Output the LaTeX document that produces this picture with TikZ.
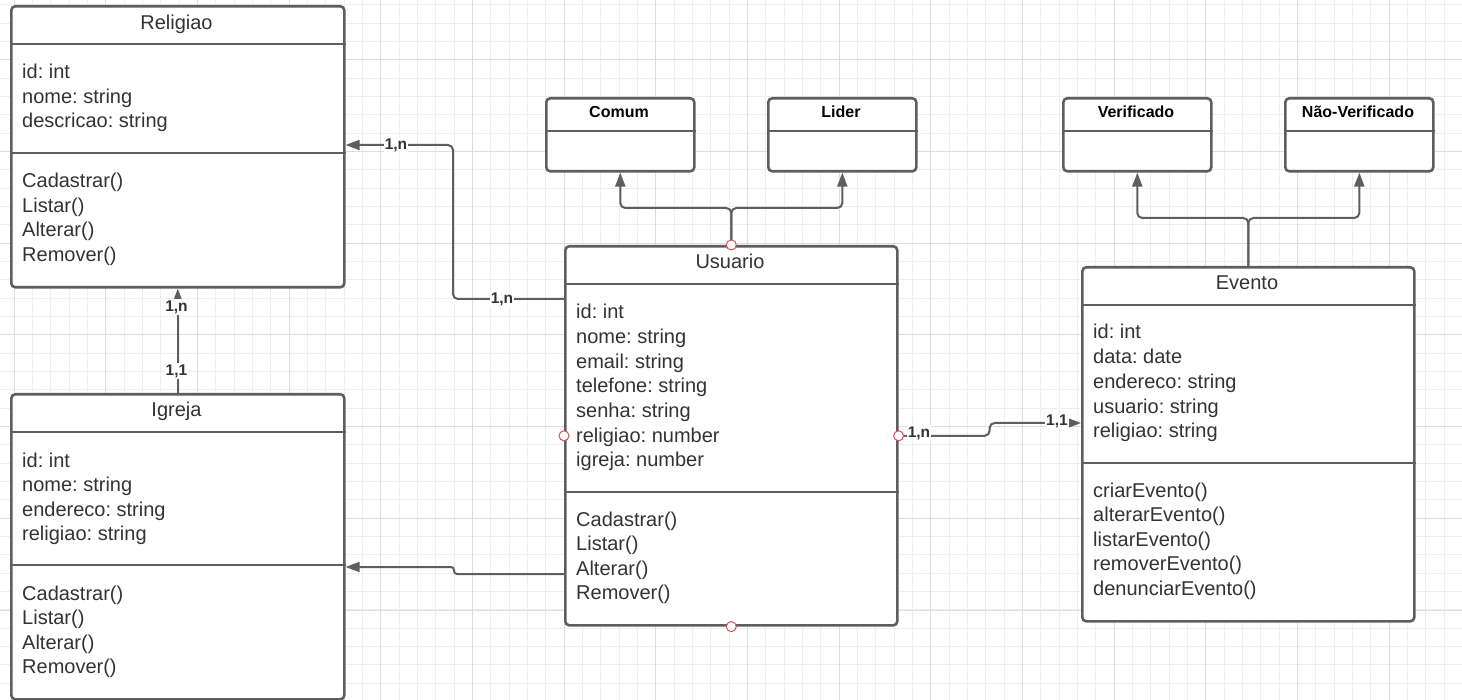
\documentclass[tikz,border=0pt]{standalone}
\usepackage{fontspec}
\setmainfont{Liberation Sans}
\usetikzlibrary{arrows.meta}
\definecolor{edge}{HTML}{5E5E5E}
\definecolor{ink}{HTML}{333333}
\definecolor{gmin}{HTML}{EEEEEE}
\definecolor{gmaj}{HTML}{DDDDDD}
\definecolor{ptred}{HTML}{E0505C}
\frenchspacing
\begin{document}
\begin{tikzpicture}[x=1pt,y=-1pt,
  umlbox/.style={draw=edge,line width=2.6pt,fill=white,rounded corners=4pt,inner sep=0pt,anchor=north west},
  divider/.style={draw=edge,line width=2.6pt},
  txt/.style={font=\fontsize{20}{24}\selectfont,text=ink,inner sep=0pt,anchor=base west},
  ttl/.style={font=\fontsize{20}{24}\selectfont,text=ink,inner sep=0pt,anchor=base},
  sttl/.style={font=\bfseries\fontsize{16}{19}\selectfont,text=black,inner sep=0pt,anchor=base},
  conn/.style={draw=edge,line width=2pt,rounded corners=5pt},
  tip/.style={-{Triangle[length=14pt,width=10pt]}},
  lbl/.style={font=\bfseries\fontsize{15.5}{18}\selectfont,text=ink,fill=white,inner sep=1pt},
  cpt/.style={circle,draw=ptred,fill=white,line width=1pt,minimum size=10pt,inner sep=0pt}]
\useasboundingbox (0,0) rectangle (1462,700);
\fill[white] (0,0) rectangle (1462,700);
% grid
\foreach \i in {0,...,79}{\draw[gmin,line width=1pt] (14.1+\i*18.333,0) -- (14.1+\i*18.333,700);}
\foreach \j in {0,...,37}{\draw[gmin,line width=1pt] (0,5+\j*18.333) -- (1462,5+\j*18.333);}
\foreach \i in {0,...,15}{\draw[gmaj,line width=1pt] (14.1+\i*91.667,0) -- (14.1+\i*91.667,700);}
\foreach \j in {0,...,7}{\draw[gmaj,line width=1pt] (0,60+\j*91.667) -- (1462,60+\j*91.667);}

% boxes
\node[umlbox,minimum width=333pt,minimum height=281pt] (rel) at (10,5) {};
\node[umlbox,minimum width=333pt,minimum height=305pt] (igr) at (10,393) {};
\node[umlbox,minimum width=332pt,minimum height=379pt] (usu) at (564,245) {};
\node[umlbox,minimum width=332pt,minimum height=354pt] (eve) at (1081,266) {};
\node[umlbox,minimum width=148pt,minimum height=73pt] (com) at (545,97) {};
\node[umlbox,minimum width=148pt,minimum height=73pt] (lid) at (767,97) {};
\node[umlbox,minimum width=148pt,minimum height=73pt] (ver) at (1062,97) {};
\node[umlbox,minimum width=148pt,minimum height=73pt] (nver) at (1284,97) {};

% dividers
\draw[divider] ([yshift=-39pt]rel.north west) -- ([yshift=-39pt]rel.north east);
\draw[divider] ([yshift=-148pt]rel.north west) -- ([yshift=-148pt]rel.north east);
\draw[divider] ([yshift=-39pt]igr.north west) -- ([yshift=-39pt]igr.north east);
\draw[divider] ([yshift=-172pt]igr.north west) -- ([yshift=-172pt]igr.north east);
\draw[divider] ([yshift=-39pt]usu.north west) -- ([yshift=-39pt]usu.north east);
\draw[divider] ([yshift=-247pt]usu.north west) -- ([yshift=-247pt]usu.north east);
\draw[divider] ([yshift=-39pt]eve.north west) -- ([yshift=-39pt]eve.north east);
\draw[divider] ([yshift=-197pt]eve.north west) -- ([yshift=-197pt]eve.north east);
\foreach \b in {com,lid,ver,nver}{\draw[divider] ([yshift=-34pt]\b.north west) -- ([yshift=-34pt]\b.north east);}

% titles
\node[ttl] (relt) at (176.5,30) {Religiao};
\node[ttl] (igrt) at (176.5,417) {Igreja};
\node[ttl] (usut) at (730,269) {Usuario};
\node[ttl] (evet) at (1247,290) {Evento};
\node[sttl] (comt) at (619,118) {Comum};
\node[sttl] (lidt) at (841,118) {Lider};
\node[sttl] (vert) at (1136,118) {Verificado};
\node[sttl] (nvert) at (1358,118) {Não-Verificado};

% Religiao
\foreach \t [count=\i from 0] in {id: int,nome: string,descricao: string}
  {\node[txt] (rela\i) at (22,79+24.5*\i) {\t};}
\foreach \t [count=\i from 0] in {Cadastrar(),Listar(),Alterar(),Remover()}
  {\node[txt] (relm\i) at (22,188+24.5*\i) {\t};}
% Igreja
\foreach \t [count=\i from 0] in {id: int,nome: string,endereco: string,religiao: string}
  {\node[txt] (igra\i) at (22,467+24.5*\i) {\t};}
\foreach \t [count=\i from 0] in {Cadastrar(),Listar(),Alterar(),Remover()}
  {\node[txt] (igrm\i) at (22,600+24.5*\i) {\t};}
% Usuario
\foreach \t [count=\i from 0] in {id: int,nome: string,email: string,telefone: string,senha: string,religiao: number,igreja: number}
  {\node[txt] (usua\i) at (576,319+24.65*\i) {\t};}
\foreach \t [count=\i from 0] in {Cadastrar(),Listar(),Alterar(),Remover()}
  {\node[txt] (usum\i) at (576,526+24.5*\i) {\t};}
% Evento
\foreach \t [count=\i from 0] in {id: int,data: date,endereco: string,usuario: string,religiao: string}
  {\node[txt] (evea\i) at (1093,339+24.75*\i) {\t};}
\foreach \t [count=\i from 0] in {criarEvento(),alterarEvento(),listarEvento(),removerEvento(),denunciarEvento()}
  {\node[txt] (evem\i) at (1093,497+24.6*\i) {\t};}

% connectors
\draw[conn,tip] (usu.north) -- ++(0,-37) -| (com.south);
\draw[conn,tip] (usu.north) -- ++(0,-37) -| (lid.south);
\draw[conn,tip] (eve.north) -- ++(0,-48) -| (ver.south);
\draw[conn,tip] (eve.north) -- ++(0,-48) -| (nver.south);
\draw[conn,tip] ([yshift=-54pt]usu.north west) -- ++(-111,0) |- ([yshift=-140pt]rel.north east);
\draw[conn,tip] (usu.east) -- ++(91,0) |- ([yshift=-157pt]eve.north west);
\draw[conn,tip,rounded corners=3pt] ([yshift=-329pt]usu.north west) -- ++(-110,0) |- ([yshift=-174pt]igr.north east);
\draw[conn,tip] (igr.north) -- (rel.south);

% labels
\node[lbl] (l1) at (502,299) {1,n};
\node[lbl] (l2) at (396,145) {1,n};
\node[lbl] (l3) at (919,433) {1,n};
\node[lbl] (l4) at (1057,421) {1,1};
\node[lbl] (l5) at (176.5,307) {1,n};
\node[lbl] (l6) at (176.5,371) {1,1};

% connection points
\node[cpt] (p1) at (usu.north) {};
\node[cpt] (p2) at (usu.west) {};
\node[cpt] (p3) at (usu.east) {};
\node[cpt] (p4) at (usu.south) {};
\end{tikzpicture}
\end{document}
